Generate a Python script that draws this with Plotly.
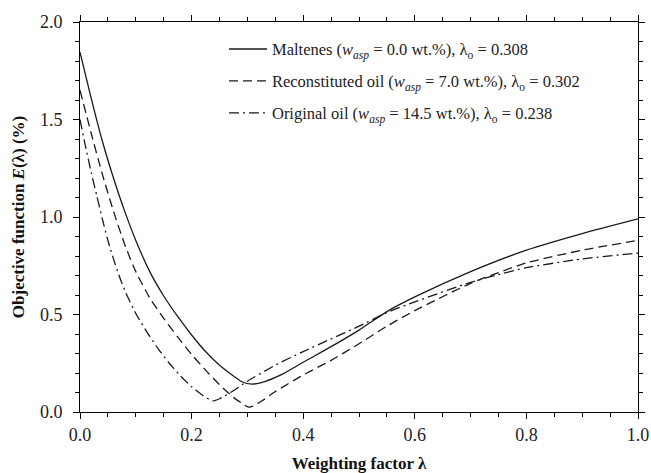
import plotly.graph_objects as go

# ---- data ----
lam_maltenes = [0.0, 0.02, 0.04, 0.06, 0.08, 0.10, 0.125, 0.15, 0.175, 0.20, 0.225, 0.25, 0.275,
                0.29, 0.308, 0.33, 0.36, 0.40, 0.45, 0.50, 0.55, 0.60, 0.70, 0.80, 0.90, 1.00]
E_maltenes = [1.845, 1.61, 1.39, 1.20, 1.03, 0.88, 0.72, 0.595, 0.49, 0.395, 0.31, 0.24, 0.185,
              0.155, 0.143, 0.155, 0.19, 0.255, 0.335, 0.42, 0.515, 0.59, 0.72, 0.83, 0.915, 0.99]

lam_recon = [0.0, 0.02, 0.04, 0.06, 0.08, 0.10, 0.125, 0.15, 0.175, 0.20, 0.225, 0.25, 0.275,
             0.29, 0.302, 0.31, 0.325, 0.35, 0.40, 0.45, 0.50, 0.55, 0.60, 0.70, 0.75, 0.80, 0.90, 1.00]
E_recon = [1.65, 1.43, 1.22, 1.03, 0.86, 0.72, 0.585, 0.48, 0.385, 0.295, 0.215, 0.14, 0.075,
           0.045, 0.025, 0.03, 0.055, 0.105, 0.19, 0.265, 0.35, 0.44, 0.52, 0.66, 0.715, 0.765, 0.83, 0.88]

lam_orig = [0.0, 0.01, 0.02, 0.03, 0.04, 0.05, 0.06, 0.07, 0.08, 0.10, 0.12, 0.14, 0.16, 0.18,
            0.20, 0.22, 0.238, 0.25, 0.27, 0.30, 0.35, 0.40, 0.45, 0.50, 0.55, 0.60, 0.70, 0.75,
            0.80, 0.90, 1.00]
E_orig = [1.50, 1.36, 1.23, 1.11, 0.99, 0.88, 0.785, 0.70, 0.625, 0.505, 0.41, 0.325, 0.25, 0.185,
          0.13, 0.085, 0.057, 0.068, 0.10, 0.158, 0.24, 0.31, 0.375, 0.44, 0.51, 0.565, 0.665, 0.705,
          0.74, 0.785, 0.815]

names = [
    "Maltenes (<i>w</i><sub><i>asp</i></sub> = 0.0 wt.%), λ<sub>o</sub> = 0.308",
    "Reconstituted oil (<i>w</i><sub><i>asp</i></sub> = 7.0 wt.%), λ<sub>o</sub> = 0.302",
    "Original oil (<i>w</i><sub><i>asp</i></sub> = 14.5 wt.%), λ<sub>o</sub> = 0.238",
]

x_ticks = [0.0, 0.2, 0.4, 0.6, 0.8, 1.0]
y_ticks = [0.0, 0.5, 1.0, 1.5, 2.0]

FONT = "'Liberation Serif', 'Times New Roman', serif"
INK = "#1a1a1a"

fig = go.Figure()
series = [(lam_maltenes, E_maltenes, "solid"),
          (lam_recon, E_recon, "9px,5px"),
          (lam_orig, E_orig, "10px,4px,2px,4px")]
for i, ((xs, ys, dash), nm) in enumerate(zip(series, names)):
    fig.add_trace(go.Scatter(x=xs, y=ys, mode="lines", name=nm, legendgroup=f"g{i}",
                             line=dict(color=INK, width=1.3, dash=dash, shape="spline", smoothing=0.6)))

axis_common = dict(showline=True, linecolor="black", linewidth=1, mirror="allticks",
                   ticks="outside", ticklen=6, tickwidth=1, tickcolor="black",
                   showgrid=False, zeroline=False,
                   tickfont=dict(family=FONT, size=18, color="#222"))

fig.update_xaxes(range=[0, 1], tickvals=x_ticks, ticktext=[f"{v:.1f}" for v in x_ticks],
                 minor=dict(ticks="outside", ticklen=4, dtick=0.05, tick0=0, tickcolor="black", showgrid=False),
                 title=dict(text="<b>Weighting factor λ</b>", font=dict(family=FONT, size=17, color="#111"), standoff=14),
                 **axis_common)
fig.update_yaxes(range=[0, 2], tickvals=y_ticks, ticktext=[f"{v:.1f}" for v in y_ticks],
                 minor=dict(ticks="outside", ticklen=4, dtick=0.1, tick0=0, tickcolor="black", showgrid=False),
                 ticklabelstandoff=7,
                 title=dict(text="<b>Objective function <i>E</i>(λ) (%)</b>", font=dict(family=FONT, size=17, color="#111"), standoff=10),
                 **axis_common)

fig.update_layout(
    width=651, height=473,
    margin=dict(l=80, r=13, t=22, b=61, autoexpand=False),
    paper_bgcolor="white", plot_bgcolor="white",
    font=dict(family=FONT, size=16.5, color="#222"),
    showlegend=True,
    legend=dict(x=0.258, y=0.975, xanchor="left", yanchor="top",
                bgcolor="rgba(0,0,0,0)", borderwidth=0,
                font=dict(family=FONT, size=16.5, color="#222"),
                itemwidth=38, tracegroupgap=7.5),
)

fig.write_html("out.html", config={"displayModeBar": False},
               post_script="document.body.style.margin='0';")
